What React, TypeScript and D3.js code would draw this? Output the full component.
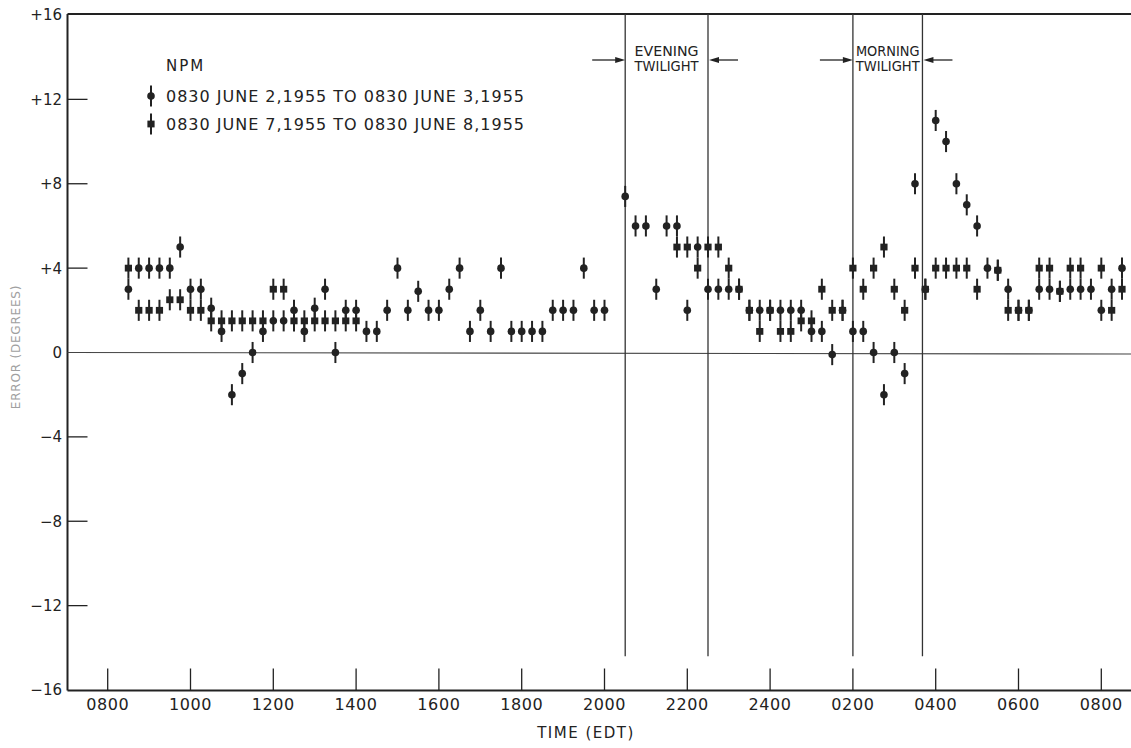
import { scaleLinear, range } from 'd3'

const width = 1131,
      height = 748,
      frameLeft = 67.5,
      frameTop = 14,
      frameBottom = 690.5,
      ink = '#222',
      font = "'DejaVu Sans', sans-serif"

// readings every quarter hour starting 0830, null = no reading
const juneTwo = [
  3, 4, 4, 4, 4, 5, 3, 3, 2.1, 1, -2, -1, 0, 1, 1.5, 1.5,
  2, 1, 2.1, 3, 0, 2, 2, 1, 1, 2, 4, 2, 2.9, 2, 2, 3,
  4, 1, 2, 1, 4, 1, 1, 1, 1, 2, 2, 2, 4, 2, 2, null,
  7.4, 6, 6, 3, 6, 6, 2, 5, 3, 3, 3, 3, 2, 2, 2, 2,
  2, 2, 1, 1, -0.1, 2, 1, 1, 0, -2, 0, -1, 8, 3, 11, 10,
  8, 7, 6, 4, 3.9, 3, 2, 2, 3, 3, 2.9, 3, 3, 3, 2, 3,
  4
]

const juneSeven = [
  4, 2, 2, 2, 2.5, 2.5, 2, 2, 1.5, 1.5, 1.5, 1.5, 1.5, 1.5, 3, 3,
  1.5, 1.5, 1.5, 1.5, 1.5, 1.5, 1.5, null, null, null, null, null, null, null, null, null,
  null, null, null, null, null, null, null, null, null, null, null, null, null, null, null, null,
  null, null, null, null, null, 5, 5, 4, 5, 5, 4, 3, 2, 1, 2, 1,
  1, 1.5, 1.5, 3, 2, 2, 4, 3, 4, 5, 3, 2, 4, 3, 4, 4,
  4, 4, 3, null, 3.9, 2, 2, 2, 4, 4, 2.9, 4, 4, null, 4, 2,
  3
]

const startHour = 8.5,
      stepHours = 0.25

const xTickLabels = ['0800', '1000', '1200', '1400', '1600', '1800', '2000', '2200', '2400', '0200', '0400', '0600', '0800']
const yTicks = [16, 12, 8, 4, 0, -4, -8, -12, -16]
const yTickLabels = ['+16', '+12', '+8', '+4', '0', '−4', '−8', '−12', '−16']

const eveningTwilight = [20.5, 22.5]
const morningTwilight = [26, 27.68]
const twilightNames = [['EVENING', 'TWILIGHT'], ['MORNING', 'TWILIGHT']]

const legendTitle = 'NPM'
const legendLabels = [
  '0830 JUNE 2,1955 TO 0830 JUNE 3,1955',
  '0830 JUNE 7,1955 TO 0830 JUNE 8,1955'
]

const x = scaleLinear()
  .domain([8, 32])
  .range([107.7, 1101.3])

const y = scaleLinear()
  .domain([-16, 16])
  .range([690, 15])

const errorHalf = 0.5

const Marker = ({ cx, cy, shape }) => (
  <g>
    <line x1={cx} x2={cx} y1={cy - 10.5} y2={cy + 10.5} stroke={ink} strokeWidth='2' />
    { shape === 'circle'
      ? <circle cx={cx} cy={cy} r='3.8' fill={ink} />
      : <rect x={cx - 3.6} y={cy - 3.4} width='7.2' height='6.8' fill={ink} /> }
  </g>
)

const Arrow = ({ from, to, yy }) => {
  const dir = Math.sign(to - from)
  return (
    <g>
      <line x1={from} x2={to - dir * 6} y1={yy} y2={yy} stroke={ink} strokeWidth='1.3' />
      <polygon points={`${to},${yy} ${to - dir * 10},${yy - 3} ${to - dir * 10},${yy + 3}`} fill={ink} />
    </g>
  )
}

const series = (values, shape) =>
  values.map((v, i) => {
    if (v === null) return null
    const t = startHour + i * stepHours
    return (
      <g key={shape + i}>
        <line x1={x(t)} x2={x(t)} y1={y(v - errorHalf)} y2={y(v + errorHalf)} stroke={ink} strokeWidth='2' />
        { shape === 'circle'
          ? <circle cx={x(t)} cy={y(v)} r='3.8' fill={ink} />
          : <rect x={x(t) - 3.6} y={y(v) - 3.4} width='7.2' height='6.8' fill={ink} /> }
      </g>
    )
  })

export default function App() {
  const twilights = [eveningTwilight, morningTwilight]
  const arrowY = 60

  return (
    <svg width={width} height={height} style={{ position: 'absolute', left: 0, top: 0, background: '#fff' }}
      fontFamily={font}>

      {/* frame */}
      <line x1={frameLeft} x2={frameLeft} y1={frameTop} y2={frameBottom} stroke={ink} strokeWidth='2' />
      <line x1={frameLeft} x2={width} y1={frameTop} y2={frameTop} stroke={ink} strokeWidth='2.2' />
      <line x1={frameLeft} x2={width} y1={frameBottom} y2={frameBottom} stroke={ink} strokeWidth='2.2' />
      <line x1={frameLeft} x2={width} y1={y(0)} y2={y(0) + 1.5} stroke='#444' strokeWidth='1.2' />

      {/* y axis */}
      { yTicks.map((t, i) =>
        <g key={'y' + t}>
          { t !== 0 && Math.abs(t) !== 16 &&
            <line x1={frameLeft} x2={frameLeft + 20} y1={y(t)} y2={y(t)} stroke={ink} strokeWidth='1.3' /> }
          <text x='62' y={y(t)} dy='0.36em' textAnchor='end' fontSize='15' fill={ink}>{yTickLabels[i]}</text>
        </g>
      )}
      <text transform={`translate(20, 347) rotate(-90)`} textAnchor='middle' fontSize='12' fill='#a0a0a0'
        letterSpacing='0.8'>ERROR (DEGREES)</text>

      {/* x axis */}
      { range(0, xTickLabels.length).map(i =>
        <g key={'x' + i}>
          <line x1={x(8 + i * 2)} x2={x(8 + i * 2)} y1={frameBottom} y2={frameBottom - 22} stroke={ink} strokeWidth='1.3' />
          <text x={x(8 + i * 2)} y='710' textAnchor='middle' fontSize='16' letterSpacing='0.6' fill={ink}>{xTickLabels[i]}</text>
        </g>
      )}
      <text x='586' y='738' textAnchor='middle' fontSize='15' letterSpacing='1.5' fill={ink}>TIME (EDT)</text>

      {/* twilight bands */}
      { twilights.map((tw, i) =>
        <g key={'tw' + i}>
          { tw.map(t =>
            <line key={t} x1={x(t)} x2={x(t)} y1={frameTop} y2={y(-14.4)} stroke='#333' strokeWidth='1.3' />
          )}
          <text x={(x(tw[0]) + x(tw[1])) / 2} y='56' textAnchor='middle' fontSize='14' fill={ink}
            textLength={Math.min(64, x(tw[1]) - x(tw[0]) - 6)} lengthAdjust='spacingAndGlyphs'>{twilightNames[i][0]}</text>
          <text x={(x(tw[0]) + x(tw[1])) / 2} y='71' textAnchor='middle' fontSize='14' fill={ink}
            textLength={Math.min(64, x(tw[1]) - x(tw[0]) - 4)} lengthAdjust='spacingAndGlyphs'>{twilightNames[i][1]}</text>
          <Arrow from={x(tw[0]) - 33} to={x(tw[0])} yy={arrowY} />
          <Arrow from={x(tw[1]) + 30} to={x(tw[1]) + 1} yy={arrowY} />
        </g>
      )}

      {/* data */}
      <g className='june-two'>{ series(juneTwo, 'circle') }</g>
      <g className='june-seven'>{ series(juneSeven, 'square') }</g>

      {/* legend */}
      <text x='166' y='71' fontSize='15' letterSpacing='2' fill={ink}>{legendTitle}</text>
      { legendLabels.map((l, i) =>
        <g key={l}>
          <Marker cx={151} cy={96 + i * 28} shape={i === 0 ? 'circle' : 'square'} />
          <text x='166' y={102 + i * 28} fontSize='16' textLength='358' lengthAdjust='spacing' fill={ink}>{l}</text>
        </g>
      )}
    </svg>
  )
}
